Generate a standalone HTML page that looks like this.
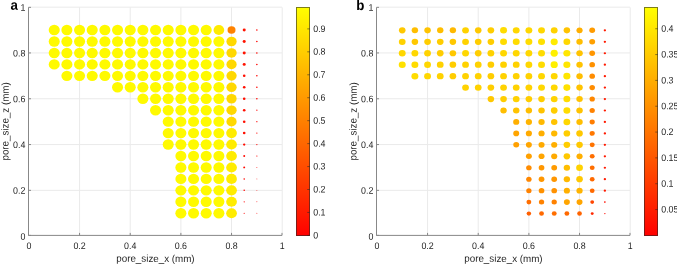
<!DOCTYPE html>
<html><head><meta charset="utf-8"><style>html,body{margin:0;padding:0;background:#fff;overflow:hidden}svg{display:block;will-change:transform}</style></head>
<body><svg width="677" height="264" viewBox="0 0 677 264">
<rect width="677" height="264" fill="#fff"/>
<line x1="79.56" y1="7.35" x2="79.56" y2="235.4" stroke="#eaeaea" stroke-width="1"/>
<line x1="130.22" y1="7.35" x2="130.22" y2="235.4" stroke="#eaeaea" stroke-width="1"/>
<line x1="180.88" y1="7.35" x2="180.88" y2="235.4" stroke="#eaeaea" stroke-width="1"/>
<line x1="231.54" y1="7.35" x2="231.54" y2="235.4" stroke="#eaeaea" stroke-width="1"/>
<line x1="282.20" y1="7.35" x2="282.20" y2="235.4" stroke="#eaeaea" stroke-width="1"/>
<line x1="28.5" y1="190.35" x2="282.0" y2="190.35" stroke="#eaeaea" stroke-width="1"/>
<line x1="28.5" y1="144.55" x2="282.0" y2="144.55" stroke="#eaeaea" stroke-width="1"/>
<line x1="28.5" y1="98.75" x2="282.0" y2="98.75" stroke="#eaeaea" stroke-width="1"/>
<line x1="28.5" y1="52.95" x2="282.0" y2="52.95" stroke="#eaeaea" stroke-width="1"/>
<line x1="28.5" y1="7.15" x2="282.0" y2="7.15" stroke="#eaeaea" stroke-width="1"/>
<g>
<ellipse cx="54.23" cy="30.05" rx="5.53" ry="5.20" fill="rgb(255,250,0)"/>
<ellipse cx="66.89" cy="30.05" rx="5.53" ry="5.20" fill="rgb(255,250,0)"/>
<ellipse cx="79.56" cy="30.05" rx="5.53" ry="5.20" fill="rgb(255,250,0)"/>
<ellipse cx="92.22" cy="30.05" rx="5.53" ry="5.20" fill="rgb(255,250,0)"/>
<ellipse cx="104.89" cy="30.05" rx="5.53" ry="5.20" fill="rgb(255,250,0)"/>
<ellipse cx="117.55" cy="30.05" rx="5.53" ry="5.20" fill="rgb(255,250,0)"/>
<ellipse cx="130.22" cy="30.05" rx="5.53" ry="5.20" fill="rgb(255,250,0)"/>
<ellipse cx="142.88" cy="30.05" rx="5.53" ry="5.20" fill="rgb(255,250,0)"/>
<ellipse cx="155.55" cy="30.05" rx="5.53" ry="5.20" fill="rgb(255,250,0)"/>
<ellipse cx="168.22" cy="30.05" rx="5.53" ry="5.20" fill="rgb(255,250,0)"/>
<ellipse cx="180.88" cy="30.05" rx="5.53" ry="5.20" fill="rgb(255,250,0)"/>
<ellipse cx="193.54" cy="30.05" rx="5.53" ry="5.20" fill="rgb(255,250,0)"/>
<ellipse cx="206.21" cy="30.05" rx="5.53" ry="5.20" fill="rgb(255,250,0)"/>
<ellipse cx="218.88" cy="30.05" rx="5.36" ry="5.04" fill="rgb(255,235,0)"/>
<ellipse cx="231.54" cy="30.05" rx="3.99" ry="3.75" fill="rgb(255,130,0)"/>
<ellipse cx="244.20" cy="30.05" rx="1.53" ry="1.44" fill="rgb(255,19,0)"/>
<ellipse cx="256.87" cy="30.05" rx="0.79" ry="0.74" fill="rgb(255,5,0)"/>
<ellipse cx="54.23" cy="41.50" rx="5.53" ry="5.20" fill="rgb(255,250,0)"/>
<ellipse cx="66.89" cy="41.50" rx="5.53" ry="5.20" fill="rgb(255,250,0)"/>
<ellipse cx="79.56" cy="41.50" rx="5.53" ry="5.20" fill="rgb(255,250,0)"/>
<ellipse cx="92.22" cy="41.50" rx="5.53" ry="5.20" fill="rgb(255,250,0)"/>
<ellipse cx="104.89" cy="41.50" rx="5.53" ry="5.20" fill="rgb(255,250,0)"/>
<ellipse cx="117.55" cy="41.50" rx="5.53" ry="5.20" fill="rgb(255,250,0)"/>
<ellipse cx="130.22" cy="41.50" rx="5.53" ry="5.20" fill="rgb(255,250,0)"/>
<ellipse cx="142.88" cy="41.50" rx="5.53" ry="5.20" fill="rgb(255,250,0)"/>
<ellipse cx="155.55" cy="41.50" rx="5.53" ry="5.20" fill="rgb(255,250,0)"/>
<ellipse cx="168.22" cy="41.50" rx="5.53" ry="5.20" fill="rgb(255,250,0)"/>
<ellipse cx="180.88" cy="41.50" rx="5.53" ry="5.20" fill="rgb(255,250,0)"/>
<ellipse cx="193.54" cy="41.50" rx="5.53" ry="5.20" fill="rgb(255,250,0)"/>
<ellipse cx="206.21" cy="41.50" rx="5.53" ry="5.20" fill="rgb(255,250,0)"/>
<ellipse cx="218.88" cy="41.50" rx="5.53" ry="5.20" fill="rgb(255,250,0)"/>
<ellipse cx="231.54" cy="41.50" rx="5.13" ry="4.82" fill="rgb(255,216,0)"/>
<ellipse cx="244.20" cy="41.50" rx="1.53" ry="1.44" fill="rgb(255,19,0)"/>
<ellipse cx="256.87" cy="41.50" rx="0.79" ry="0.74" fill="rgb(255,5,0)"/>
<ellipse cx="54.23" cy="52.95" rx="5.53" ry="5.20" fill="rgb(255,250,0)"/>
<ellipse cx="66.89" cy="52.95" rx="5.53" ry="5.20" fill="rgb(255,250,0)"/>
<ellipse cx="79.56" cy="52.95" rx="5.53" ry="5.20" fill="rgb(255,250,0)"/>
<ellipse cx="92.22" cy="52.95" rx="5.53" ry="5.20" fill="rgb(255,250,0)"/>
<ellipse cx="104.89" cy="52.95" rx="5.53" ry="5.20" fill="rgb(255,250,0)"/>
<ellipse cx="117.55" cy="52.95" rx="5.53" ry="5.20" fill="rgb(255,250,0)"/>
<ellipse cx="130.22" cy="52.95" rx="5.53" ry="5.20" fill="rgb(255,250,0)"/>
<ellipse cx="142.88" cy="52.95" rx="5.53" ry="5.20" fill="rgb(255,250,0)"/>
<ellipse cx="155.55" cy="52.95" rx="5.53" ry="5.20" fill="rgb(255,250,0)"/>
<ellipse cx="168.22" cy="52.95" rx="5.53" ry="5.20" fill="rgb(255,250,0)"/>
<ellipse cx="180.88" cy="52.95" rx="5.53" ry="5.20" fill="rgb(255,250,0)"/>
<ellipse cx="193.54" cy="52.95" rx="5.53" ry="5.20" fill="rgb(255,250,0)"/>
<ellipse cx="206.21" cy="52.95" rx="5.53" ry="5.20" fill="rgb(255,250,0)"/>
<ellipse cx="218.88" cy="52.95" rx="5.53" ry="5.20" fill="rgb(255,250,0)"/>
<ellipse cx="231.54" cy="52.95" rx="5.13" ry="4.82" fill="rgb(255,216,0)"/>
<ellipse cx="244.20" cy="52.95" rx="1.53" ry="1.44" fill="rgb(255,19,0)"/>
<ellipse cx="256.87" cy="52.95" rx="0.79" ry="0.74" fill="rgb(255,5,0)"/>
<ellipse cx="54.23" cy="64.40" rx="5.53" ry="5.20" fill="rgb(255,250,0)"/>
<ellipse cx="66.89" cy="64.40" rx="5.53" ry="5.20" fill="rgb(255,250,0)"/>
<ellipse cx="79.56" cy="64.40" rx="5.53" ry="5.20" fill="rgb(255,250,0)"/>
<ellipse cx="92.22" cy="64.40" rx="5.53" ry="5.20" fill="rgb(255,250,0)"/>
<ellipse cx="104.89" cy="64.40" rx="5.53" ry="5.20" fill="rgb(255,250,0)"/>
<ellipse cx="117.55" cy="64.40" rx="5.53" ry="5.20" fill="rgb(255,250,0)"/>
<ellipse cx="130.22" cy="64.40" rx="5.53" ry="5.20" fill="rgb(255,250,0)"/>
<ellipse cx="142.88" cy="64.40" rx="5.53" ry="5.20" fill="rgb(255,250,0)"/>
<ellipse cx="155.55" cy="64.40" rx="5.53" ry="5.20" fill="rgb(255,250,0)"/>
<ellipse cx="168.22" cy="64.40" rx="5.53" ry="5.20" fill="rgb(255,250,0)"/>
<ellipse cx="180.88" cy="64.40" rx="5.53" ry="5.20" fill="rgb(255,250,0)"/>
<ellipse cx="193.54" cy="64.40" rx="5.53" ry="5.20" fill="rgb(255,250,0)"/>
<ellipse cx="206.21" cy="64.40" rx="5.53" ry="5.20" fill="rgb(255,250,0)"/>
<ellipse cx="218.88" cy="64.40" rx="5.53" ry="5.20" fill="rgb(255,250,0)"/>
<ellipse cx="231.54" cy="64.40" rx="5.13" ry="4.82" fill="rgb(255,216,0)"/>
<ellipse cx="244.20" cy="64.40" rx="1.53" ry="1.44" fill="rgb(255,19,0)"/>
<ellipse cx="256.87" cy="64.40" rx="0.79" ry="0.74" fill="rgb(255,5,0)"/>
<ellipse cx="66.89" cy="75.85" rx="5.53" ry="5.20" fill="rgb(255,250,0)"/>
<ellipse cx="79.56" cy="75.85" rx="5.53" ry="5.20" fill="rgb(255,250,0)"/>
<ellipse cx="92.22" cy="75.85" rx="5.53" ry="5.20" fill="rgb(255,250,0)"/>
<ellipse cx="104.89" cy="75.85" rx="5.53" ry="5.20" fill="rgb(255,250,0)"/>
<ellipse cx="117.55" cy="75.85" rx="5.53" ry="5.20" fill="rgb(255,250,0)"/>
<ellipse cx="130.22" cy="75.85" rx="5.53" ry="5.20" fill="rgb(255,250,0)"/>
<ellipse cx="142.88" cy="75.85" rx="5.53" ry="5.20" fill="rgb(255,250,0)"/>
<ellipse cx="155.55" cy="75.85" rx="5.53" ry="5.20" fill="rgb(255,250,0)"/>
<ellipse cx="168.22" cy="75.85" rx="5.53" ry="5.20" fill="rgb(255,250,0)"/>
<ellipse cx="180.88" cy="75.85" rx="5.53" ry="5.20" fill="rgb(255,250,0)"/>
<ellipse cx="193.54" cy="75.85" rx="5.53" ry="5.20" fill="rgb(255,250,0)"/>
<ellipse cx="206.21" cy="75.85" rx="5.53" ry="5.20" fill="rgb(255,250,0)"/>
<ellipse cx="218.88" cy="75.85" rx="5.53" ry="5.20" fill="rgb(255,250,0)"/>
<ellipse cx="231.54" cy="75.85" rx="5.13" ry="4.82" fill="rgb(255,216,0)"/>
<ellipse cx="244.20" cy="75.85" rx="1.31" ry="1.23" fill="rgb(255,14,0)"/>
<ellipse cx="256.87" cy="75.85" rx="0.79" ry="0.74" fill="rgb(255,5,0)"/>
<ellipse cx="117.55" cy="87.30" rx="5.53" ry="5.20" fill="rgb(255,250,0)"/>
<ellipse cx="130.22" cy="87.30" rx="5.53" ry="5.20" fill="rgb(255,250,0)"/>
<ellipse cx="142.88" cy="87.30" rx="5.53" ry="5.20" fill="rgb(255,250,0)"/>
<ellipse cx="155.55" cy="87.30" rx="5.53" ry="5.20" fill="rgb(255,250,0)"/>
<ellipse cx="168.22" cy="87.30" rx="5.53" ry="5.20" fill="rgb(255,250,0)"/>
<ellipse cx="180.88" cy="87.30" rx="5.53" ry="5.20" fill="rgb(255,250,0)"/>
<ellipse cx="193.54" cy="87.30" rx="5.53" ry="5.20" fill="rgb(255,250,0)"/>
<ellipse cx="206.21" cy="87.30" rx="5.53" ry="5.20" fill="rgb(255,250,0)"/>
<ellipse cx="218.88" cy="87.30" rx="5.53" ry="5.20" fill="rgb(255,250,0)"/>
<ellipse cx="231.54" cy="87.30" rx="5.13" ry="4.82" fill="rgb(255,216,0)"/>
<ellipse cx="244.20" cy="87.30" rx="1.31" ry="1.23" fill="rgb(255,14,0)"/>
<ellipse cx="256.87" cy="87.30" rx="0.79" ry="0.74" fill="rgb(255,5,0)"/>
<ellipse cx="142.88" cy="98.75" rx="5.53" ry="5.20" fill="rgb(255,250,0)"/>
<ellipse cx="155.55" cy="98.75" rx="5.53" ry="5.20" fill="rgb(255,250,0)"/>
<ellipse cx="168.22" cy="98.75" rx="5.53" ry="5.20" fill="rgb(255,250,0)"/>
<ellipse cx="180.88" cy="98.75" rx="5.53" ry="5.20" fill="rgb(255,250,0)"/>
<ellipse cx="193.54" cy="98.75" rx="5.53" ry="5.20" fill="rgb(255,250,0)"/>
<ellipse cx="206.21" cy="98.75" rx="5.53" ry="5.20" fill="rgb(255,250,0)"/>
<ellipse cx="218.88" cy="98.75" rx="5.53" ry="5.20" fill="rgb(255,250,0)"/>
<ellipse cx="231.54" cy="98.75" rx="5.13" ry="4.82" fill="rgb(255,216,0)"/>
<ellipse cx="244.20" cy="98.75" rx="1.31" ry="1.23" fill="rgb(255,14,0)"/>
<ellipse cx="256.87" cy="98.75" rx="0.79" ry="0.74" fill="rgb(255,5,0)"/>
<ellipse cx="155.55" cy="110.20" rx="5.53" ry="5.20" fill="rgb(255,250,0)"/>
<ellipse cx="168.22" cy="110.20" rx="5.53" ry="5.20" fill="rgb(255,250,0)"/>
<ellipse cx="180.88" cy="110.20" rx="5.53" ry="5.20" fill="rgb(255,250,0)"/>
<ellipse cx="193.54" cy="110.20" rx="5.53" ry="5.20" fill="rgb(255,250,0)"/>
<ellipse cx="206.21" cy="110.20" rx="5.53" ry="5.20" fill="rgb(255,250,0)"/>
<ellipse cx="218.88" cy="110.20" rx="5.53" ry="5.20" fill="rgb(255,250,0)"/>
<ellipse cx="231.54" cy="110.20" rx="5.13" ry="4.82" fill="rgb(255,216,0)"/>
<ellipse cx="244.20" cy="110.20" rx="1.31" ry="1.23" fill="rgb(255,14,0)"/>
<ellipse cx="256.87" cy="110.20" rx="0.64" ry="0.60" fill="rgb(255,3,0)"/>
<ellipse cx="168.22" cy="121.65" rx="5.53" ry="5.20" fill="rgb(255,250,0)"/>
<ellipse cx="180.88" cy="121.65" rx="5.53" ry="5.20" fill="rgb(255,250,0)"/>
<ellipse cx="193.54" cy="121.65" rx="5.53" ry="5.20" fill="rgb(255,250,0)"/>
<ellipse cx="206.21" cy="121.65" rx="5.53" ry="5.20" fill="rgb(255,250,0)"/>
<ellipse cx="218.88" cy="121.65" rx="5.53" ry="5.20" fill="rgb(255,250,0)"/>
<ellipse cx="231.54" cy="121.65" rx="5.13" ry="4.82" fill="rgb(255,216,0)"/>
<ellipse cx="244.20" cy="121.65" rx="1.31" ry="1.23" fill="rgb(255,14,0)"/>
<ellipse cx="256.87" cy="121.65" rx="0.64" ry="0.60" fill="rgb(255,3,0)"/>
<ellipse cx="168.22" cy="133.10" rx="5.53" ry="5.20" fill="rgb(255,250,0)"/>
<ellipse cx="180.88" cy="133.10" rx="5.53" ry="5.20" fill="rgb(255,250,0)"/>
<ellipse cx="193.54" cy="133.10" rx="5.53" ry="5.20" fill="rgb(255,250,0)"/>
<ellipse cx="206.21" cy="133.10" rx="5.53" ry="5.20" fill="rgb(255,250,0)"/>
<ellipse cx="218.88" cy="133.10" rx="5.53" ry="5.20" fill="rgb(255,250,0)"/>
<ellipse cx="231.54" cy="133.10" rx="5.37" ry="5.05" fill="rgb(255,236,0)"/>
<ellipse cx="244.20" cy="133.10" rx="1.31" ry="1.23" fill="rgb(255,14,0)"/>
<ellipse cx="256.87" cy="133.10" rx="0.64" ry="0.60" fill="rgb(255,3,0)"/>
<ellipse cx="168.22" cy="144.55" rx="5.53" ry="5.20" fill="rgb(255,250,0)"/>
<ellipse cx="180.88" cy="144.55" rx="5.53" ry="5.20" fill="rgb(255,250,0)"/>
<ellipse cx="193.54" cy="144.55" rx="5.53" ry="5.20" fill="rgb(255,250,0)"/>
<ellipse cx="206.21" cy="144.55" rx="5.53" ry="5.20" fill="rgb(255,250,0)"/>
<ellipse cx="218.88" cy="144.55" rx="5.53" ry="5.20" fill="rgb(255,250,0)"/>
<ellipse cx="231.54" cy="144.55" rx="5.37" ry="5.05" fill="rgb(255,236,0)"/>
<ellipse cx="244.20" cy="144.55" rx="1.19" ry="1.12" fill="rgb(255,12,0)"/>
<ellipse cx="256.87" cy="144.55" rx="0.64" ry="0.60" fill="rgb(255,3,0)"/>
<ellipse cx="180.88" cy="156.00" rx="5.53" ry="5.20" fill="rgb(255,250,0)"/>
<ellipse cx="193.54" cy="156.00" rx="5.53" ry="5.20" fill="rgb(255,250,0)"/>
<ellipse cx="206.21" cy="156.00" rx="5.53" ry="5.20" fill="rgb(255,250,0)"/>
<ellipse cx="218.88" cy="156.00" rx="5.53" ry="5.20" fill="rgb(255,250,0)"/>
<ellipse cx="231.54" cy="156.00" rx="5.37" ry="5.05" fill="rgb(255,236,0)"/>
<ellipse cx="244.20" cy="156.00" rx="0.97" ry="0.91" fill="rgb(255,8,0)"/>
<ellipse cx="256.87" cy="156.00" rx="0.64" ry="0.60" fill="rgb(255,3,0)"/>
<ellipse cx="180.88" cy="167.45" rx="5.53" ry="5.20" fill="rgb(255,250,0)"/>
<ellipse cx="193.54" cy="167.45" rx="5.53" ry="5.20" fill="rgb(255,250,0)"/>
<ellipse cx="206.21" cy="167.45" rx="5.53" ry="5.20" fill="rgb(255,250,0)"/>
<ellipse cx="218.88" cy="167.45" rx="5.53" ry="5.20" fill="rgb(255,250,0)"/>
<ellipse cx="231.54" cy="167.45" rx="5.37" ry="5.05" fill="rgb(255,236,0)"/>
<ellipse cx="244.20" cy="167.45" rx="0.97" ry="0.91" fill="rgb(255,8,0)"/>
<ellipse cx="256.87" cy="167.45" rx="0.50" ry="0.47" fill="rgb(255,2,0)"/>
<ellipse cx="180.88" cy="178.90" rx="5.53" ry="5.20" fill="rgb(255,250,0)"/>
<ellipse cx="193.54" cy="178.90" rx="5.53" ry="5.20" fill="rgb(255,250,0)"/>
<ellipse cx="206.21" cy="178.90" rx="5.53" ry="5.20" fill="rgb(255,250,0)"/>
<ellipse cx="218.88" cy="178.90" rx="5.53" ry="5.20" fill="rgb(255,250,0)"/>
<ellipse cx="231.54" cy="178.90" rx="5.37" ry="5.05" fill="rgb(255,236,0)"/>
<ellipse cx="244.20" cy="178.90" rx="0.79" ry="0.74" fill="rgb(255,5,0)"/>
<ellipse cx="256.87" cy="178.90" rx="0.50" ry="0.47" fill="rgb(255,2,0)"/>
<ellipse cx="180.88" cy="190.35" rx="5.53" ry="5.20" fill="rgb(255,250,0)"/>
<ellipse cx="193.54" cy="190.35" rx="5.53" ry="5.20" fill="rgb(255,250,0)"/>
<ellipse cx="206.21" cy="190.35" rx="5.53" ry="5.20" fill="rgb(255,250,0)"/>
<ellipse cx="218.88" cy="190.35" rx="5.53" ry="5.20" fill="rgb(255,250,0)"/>
<ellipse cx="231.54" cy="190.35" rx="5.37" ry="5.05" fill="rgb(255,236,0)"/>
<ellipse cx="244.20" cy="190.35" rx="0.79" ry="0.74" fill="rgb(255,5,0)"/>
<ellipse cx="256.87" cy="190.35" rx="0.50" ry="0.47" fill="rgb(255,2,0)"/>
<ellipse cx="180.88" cy="201.80" rx="5.53" ry="5.20" fill="rgb(255,250,0)"/>
<ellipse cx="193.54" cy="201.80" rx="5.53" ry="5.20" fill="rgb(255,250,0)"/>
<ellipse cx="206.21" cy="201.80" rx="5.53" ry="5.20" fill="rgb(255,250,0)"/>
<ellipse cx="218.88" cy="201.80" rx="5.53" ry="5.20" fill="rgb(255,250,0)"/>
<ellipse cx="231.54" cy="201.80" rx="5.37" ry="5.05" fill="rgb(255,236,0)"/>
<ellipse cx="244.20" cy="201.80" rx="0.61" ry="0.58" fill="rgb(255,3,0)"/>
<ellipse cx="256.87" cy="201.80" rx="0.50" ry="0.47" fill="rgb(255,2,0)"/>
<ellipse cx="180.88" cy="213.25" rx="5.53" ry="5.20" fill="rgb(255,250,0)"/>
<ellipse cx="193.54" cy="213.25" rx="5.53" ry="5.20" fill="rgb(255,250,0)"/>
<ellipse cx="206.21" cy="213.25" rx="5.53" ry="5.20" fill="rgb(255,250,0)"/>
<ellipse cx="218.88" cy="213.25" rx="5.53" ry="5.20" fill="rgb(255,250,0)"/>
<ellipse cx="231.54" cy="213.25" rx="5.37" ry="5.05" fill="rgb(255,236,0)"/>
<ellipse cx="244.20" cy="213.25" rx="0.61" ry="0.58" fill="rgb(255,3,0)"/>
<ellipse cx="256.87" cy="213.25" rx="0.50" ry="0.47" fill="rgb(255,2,0)"/>
</g>
<line x1="28.5" y1="7.35" x2="28.5" y2="235.4" stroke="#888888" stroke-width="1"/>
<line x1="28.5" y1="235.4" x2="282.0" y2="235.4" stroke="#888888" stroke-width="1"/>
<line x1="28.50" y1="235.4" x2="28.50" y2="232.9" stroke="#888888" stroke-width="1"/>
<line x1="28.5" y1="235.40" x2="31.0" y2="235.40" stroke="#888888" stroke-width="1"/>
<line x1="79.56" y1="235.4" x2="79.56" y2="232.9" stroke="#888888" stroke-width="1"/>
<line x1="28.5" y1="190.35" x2="31.0" y2="190.35" stroke="#888888" stroke-width="1"/>
<line x1="130.22" y1="235.4" x2="130.22" y2="232.9" stroke="#888888" stroke-width="1"/>
<line x1="28.5" y1="144.55" x2="31.0" y2="144.55" stroke="#888888" stroke-width="1"/>
<line x1="180.88" y1="235.4" x2="180.88" y2="232.9" stroke="#888888" stroke-width="1"/>
<line x1="28.5" y1="98.75" x2="31.0" y2="98.75" stroke="#888888" stroke-width="1"/>
<line x1="231.54" y1="235.4" x2="231.54" y2="232.9" stroke="#888888" stroke-width="1"/>
<line x1="28.5" y1="52.95" x2="31.0" y2="52.95" stroke="#888888" stroke-width="1"/>
<line x1="282.00" y1="235.4" x2="282.00" y2="232.9" stroke="#888888" stroke-width="1"/>
<line x1="28.5" y1="7.35" x2="31.0" y2="7.35" stroke="#888888" stroke-width="1"/>
<text transform="translate(28.90 249.10) rotate(0.2) scale(0.93 1)" text-anchor="middle" font-size="9.5" font-family="Liberation Sans, sans-serif" fill="#262626">0</text>
<text transform="translate(25.30 239.65) rotate(0.2) scale(0.93 1)" text-anchor="end" font-size="9.5" font-family="Liberation Sans, sans-serif" fill="#262626">0</text>
<text transform="translate(79.56 249.10) rotate(0.2) scale(0.93 1)" text-anchor="middle" font-size="9.5" font-family="Liberation Sans, sans-serif" fill="#262626">0.2</text>
<text transform="translate(25.30 193.85) rotate(0.2) scale(0.93 1)" text-anchor="end" font-size="9.5" font-family="Liberation Sans, sans-serif" fill="#262626">0.2</text>
<text transform="translate(130.22 249.10) rotate(0.2) scale(0.93 1)" text-anchor="middle" font-size="9.5" font-family="Liberation Sans, sans-serif" fill="#262626">0.4</text>
<text transform="translate(25.30 148.05) rotate(0.2) scale(0.93 1)" text-anchor="end" font-size="9.5" font-family="Liberation Sans, sans-serif" fill="#262626">0.4</text>
<text transform="translate(180.88 249.10) rotate(0.2) scale(0.93 1)" text-anchor="middle" font-size="9.5" font-family="Liberation Sans, sans-serif" fill="#262626">0.6</text>
<text transform="translate(25.30 102.25) rotate(0.2) scale(0.93 1)" text-anchor="end" font-size="9.5" font-family="Liberation Sans, sans-serif" fill="#262626">0.6</text>
<text transform="translate(231.54 249.10) rotate(0.2) scale(0.93 1)" text-anchor="middle" font-size="9.5" font-family="Liberation Sans, sans-serif" fill="#262626">0.8</text>
<text transform="translate(25.30 56.45) rotate(0.2) scale(0.93 1)" text-anchor="end" font-size="9.5" font-family="Liberation Sans, sans-serif" fill="#262626">0.8</text>
<text transform="translate(282.20 249.10) rotate(0.2) scale(0.93 1)" text-anchor="middle" font-size="9.5" font-family="Liberation Sans, sans-serif" fill="#262626">1</text>
<text transform="translate(25.30 10.65) rotate(0.2) scale(0.93 1)" text-anchor="end" font-size="9.5" font-family="Liberation Sans, sans-serif" fill="#262626">1</text>
<text transform="translate(155.45 261.9) rotate(0.2) scale(0.98 1)" text-anchor="middle" font-size="10" font-family="Liberation Sans, sans-serif" fill="#262626">pore_size_x (mm)</text>
<text transform="translate(8.60 121.38) rotate(-89.8) scale(0.98 1)" text-anchor="middle" font-size="10" font-family="Liberation Sans, sans-serif" fill="#262626">pore_size_z (mm)</text>
<text transform="translate(10.5 9.7) rotate(0.2) scale(0.95 1)" font-size="14" font-weight="bold" font-family="Liberation Sans, sans-serif" fill="#000">a</text>
<defs><linearGradient id="ga" x1="0" y1="1" x2="0" y2="0"><stop offset="0" stop-color="rgb(255,0,0)"/><stop offset="1" stop-color="rgb(255,255,0)"/></linearGradient></defs>
<rect x="296" y="7" width="14" height="229" fill="url(#ga)"/>
<rect x="296.5" y="7.5" width="13" height="228" fill="none" stroke="#262626" stroke-opacity="0.6" stroke-width="1"/>
<line x1="309.75" y1="235.40" x2="307.25" y2="235.40" stroke="#262626" stroke-opacity="0.55" stroke-width="1"/>
<text transform="translate(313.25 238.40) rotate(0.2) scale(0.93 1)" text-anchor="start" font-size="9.5" font-family="Liberation Sans, sans-serif" fill="#262626">0</text>
<line x1="309.75" y1="212.46" x2="307.25" y2="212.46" stroke="#262626" stroke-opacity="0.55" stroke-width="1"/>
<text transform="translate(313.25 215.46) rotate(0.2) scale(0.93 1)" text-anchor="start" font-size="9.5" font-family="Liberation Sans, sans-serif" fill="#262626">0.1</text>
<line x1="309.75" y1="189.51" x2="307.25" y2="189.51" stroke="#262626" stroke-opacity="0.55" stroke-width="1"/>
<text transform="translate(313.25 192.51) rotate(0.2) scale(0.93 1)" text-anchor="start" font-size="9.5" font-family="Liberation Sans, sans-serif" fill="#262626">0.2</text>
<line x1="309.75" y1="166.57" x2="307.25" y2="166.57" stroke="#262626" stroke-opacity="0.55" stroke-width="1"/>
<text transform="translate(313.25 169.57) rotate(0.2) scale(0.93 1)" text-anchor="start" font-size="9.5" font-family="Liberation Sans, sans-serif" fill="#262626">0.3</text>
<line x1="309.75" y1="143.62" x2="307.25" y2="143.62" stroke="#262626" stroke-opacity="0.55" stroke-width="1"/>
<text transform="translate(313.25 146.62) rotate(0.2) scale(0.93 1)" text-anchor="start" font-size="9.5" font-family="Liberation Sans, sans-serif" fill="#262626">0.4</text>
<line x1="309.75" y1="120.68" x2="307.25" y2="120.68" stroke="#262626" stroke-opacity="0.55" stroke-width="1"/>
<text transform="translate(313.25 123.68) rotate(0.2) scale(0.93 1)" text-anchor="start" font-size="9.5" font-family="Liberation Sans, sans-serif" fill="#262626">0.5</text>
<line x1="309.75" y1="97.73" x2="307.25" y2="97.73" stroke="#262626" stroke-opacity="0.55" stroke-width="1"/>
<text transform="translate(313.25 100.73) rotate(0.2) scale(0.93 1)" text-anchor="start" font-size="9.5" font-family="Liberation Sans, sans-serif" fill="#262626">0.6</text>
<line x1="309.75" y1="74.79" x2="307.25" y2="74.79" stroke="#262626" stroke-opacity="0.55" stroke-width="1"/>
<text transform="translate(313.25 77.79) rotate(0.2) scale(0.93 1)" text-anchor="start" font-size="9.5" font-family="Liberation Sans, sans-serif" fill="#262626">0.7</text>
<line x1="309.75" y1="51.84" x2="307.25" y2="51.84" stroke="#262626" stroke-opacity="0.55" stroke-width="1"/>
<text transform="translate(313.25 54.84) rotate(0.2) scale(0.93 1)" text-anchor="start" font-size="9.5" font-family="Liberation Sans, sans-serif" fill="#262626">0.8</text>
<line x1="309.75" y1="28.90" x2="307.25" y2="28.90" stroke="#262626" stroke-opacity="0.55" stroke-width="1"/>
<text transform="translate(313.25 31.90) rotate(0.2) scale(0.93 1)" text-anchor="start" font-size="9.5" font-family="Liberation Sans, sans-serif" fill="#262626">0.9</text>
<line x1="427.56" y1="7.35" x2="427.56" y2="235.4" stroke="#eaeaea" stroke-width="1"/>
<line x1="478.22" y1="7.35" x2="478.22" y2="235.4" stroke="#eaeaea" stroke-width="1"/>
<line x1="528.88" y1="7.35" x2="528.88" y2="235.4" stroke="#eaeaea" stroke-width="1"/>
<line x1="579.54" y1="7.35" x2="579.54" y2="235.4" stroke="#eaeaea" stroke-width="1"/>
<line x1="630.20" y1="7.35" x2="630.20" y2="235.4" stroke="#eaeaea" stroke-width="1"/>
<line x1="376.5" y1="190.35" x2="630.0" y2="190.35" stroke="#eaeaea" stroke-width="1"/>
<line x1="376.5" y1="144.55" x2="630.0" y2="144.55" stroke="#eaeaea" stroke-width="1"/>
<line x1="376.5" y1="98.75" x2="630.0" y2="98.75" stroke="#eaeaea" stroke-width="1"/>
<line x1="376.5" y1="52.95" x2="630.0" y2="52.95" stroke="#eaeaea" stroke-width="1"/>
<line x1="376.5" y1="7.15" x2="630.0" y2="7.15" stroke="#eaeaea" stroke-width="1"/>
<g>
<ellipse cx="402.23" cy="30.35" rx="3.29" ry="3.10" fill="rgb(255,200,0)"/>
<ellipse cx="414.89" cy="30.35" rx="3.21" ry="3.02" fill="rgb(255,190,0)"/>
<ellipse cx="427.56" cy="30.35" rx="3.25" ry="3.06" fill="rgb(255,195,0)"/>
<ellipse cx="440.23" cy="30.35" rx="3.21" ry="3.02" fill="rgb(255,190,0)"/>
<ellipse cx="452.89" cy="30.35" rx="3.17" ry="2.98" fill="rgb(255,185,0)"/>
<ellipse cx="465.55" cy="30.35" rx="3.38" ry="3.17" fill="rgb(255,210,0)"/>
<ellipse cx="478.22" cy="30.35" rx="3.29" ry="3.10" fill="rgb(255,200,0)"/>
<ellipse cx="490.88" cy="30.35" rx="3.34" ry="3.14" fill="rgb(255,205,0)"/>
<ellipse cx="503.55" cy="30.35" rx="3.46" ry="3.25" fill="rgb(255,220,0)"/>
<ellipse cx="516.22" cy="30.35" rx="3.42" ry="3.21" fill="rgb(255,215,0)"/>
<ellipse cx="528.88" cy="30.35" rx="3.42" ry="3.21" fill="rgb(255,215,0)"/>
<ellipse cx="541.54" cy="30.35" rx="3.42" ry="3.21" fill="rgb(255,215,0)"/>
<ellipse cx="554.21" cy="30.35" rx="3.38" ry="3.17" fill="rgb(255,210,0)"/>
<ellipse cx="566.88" cy="30.35" rx="3.25" ry="3.06" fill="rgb(255,195,0)"/>
<ellipse cx="579.54" cy="30.35" rx="3.08" ry="2.90" fill="rgb(255,175,0)"/>
<ellipse cx="592.20" cy="30.35" rx="2.90" ry="2.73" fill="rgb(255,155,0)"/>
<ellipse cx="604.87" cy="30.35" rx="1.19" ry="1.12" fill="rgb(255,26,0)"/>
<ellipse cx="402.23" cy="41.80" rx="3.38" ry="3.17" fill="rgb(255,210,0)"/>
<ellipse cx="414.89" cy="41.80" rx="3.29" ry="3.10" fill="rgb(255,200,0)"/>
<ellipse cx="427.56" cy="41.80" rx="3.34" ry="3.14" fill="rgb(255,205,0)"/>
<ellipse cx="440.23" cy="41.80" rx="3.34" ry="3.14" fill="rgb(255,205,0)"/>
<ellipse cx="452.89" cy="41.80" rx="3.29" ry="3.10" fill="rgb(255,200,0)"/>
<ellipse cx="465.55" cy="41.80" rx="3.38" ry="3.17" fill="rgb(255,210,0)"/>
<ellipse cx="478.22" cy="41.80" rx="3.34" ry="3.14" fill="rgb(255,205,0)"/>
<ellipse cx="490.88" cy="41.80" rx="3.34" ry="3.14" fill="rgb(255,205,0)"/>
<ellipse cx="503.55" cy="41.80" rx="3.46" ry="3.25" fill="rgb(255,220,0)"/>
<ellipse cx="516.22" cy="41.80" rx="3.46" ry="3.25" fill="rgb(255,220,0)"/>
<ellipse cx="528.88" cy="41.80" rx="3.46" ry="3.25" fill="rgb(255,220,0)"/>
<ellipse cx="541.54" cy="41.80" rx="3.49" ry="3.29" fill="rgb(255,225,0)"/>
<ellipse cx="554.21" cy="41.80" rx="3.57" ry="3.36" fill="rgb(255,235,0)"/>
<ellipse cx="566.88" cy="41.80" rx="3.42" ry="3.21" fill="rgb(255,215,0)"/>
<ellipse cx="579.54" cy="41.80" rx="3.21" ry="3.02" fill="rgb(255,190,0)"/>
<ellipse cx="592.20" cy="41.80" rx="2.95" ry="2.77" fill="rgb(255,160,0)"/>
<ellipse cx="604.87" cy="41.80" rx="1.19" ry="1.12" fill="rgb(255,26,0)"/>
<ellipse cx="402.23" cy="53.25" rx="3.42" ry="3.21" fill="rgb(255,215,0)"/>
<ellipse cx="414.89" cy="53.25" rx="3.42" ry="3.21" fill="rgb(255,215,0)"/>
<ellipse cx="427.56" cy="53.25" rx="3.38" ry="3.17" fill="rgb(255,210,0)"/>
<ellipse cx="440.23" cy="53.25" rx="3.34" ry="3.14" fill="rgb(255,205,0)"/>
<ellipse cx="452.89" cy="53.25" rx="3.29" ry="3.10" fill="rgb(255,200,0)"/>
<ellipse cx="465.55" cy="53.25" rx="3.42" ry="3.21" fill="rgb(255,215,0)"/>
<ellipse cx="478.22" cy="53.25" rx="3.34" ry="3.14" fill="rgb(255,205,0)"/>
<ellipse cx="490.88" cy="53.25" rx="3.38" ry="3.17" fill="rgb(255,210,0)"/>
<ellipse cx="503.55" cy="53.25" rx="3.42" ry="3.21" fill="rgb(255,215,0)"/>
<ellipse cx="516.22" cy="53.25" rx="3.42" ry="3.21" fill="rgb(255,215,0)"/>
<ellipse cx="528.88" cy="53.25" rx="3.42" ry="3.21" fill="rgb(255,215,0)"/>
<ellipse cx="541.54" cy="53.25" rx="3.46" ry="3.25" fill="rgb(255,220,0)"/>
<ellipse cx="554.21" cy="53.25" rx="3.61" ry="3.39" fill="rgb(255,240,0)"/>
<ellipse cx="566.88" cy="53.25" rx="3.53" ry="3.32" fill="rgb(255,230,0)"/>
<ellipse cx="579.54" cy="53.25" rx="3.25" ry="3.06" fill="rgb(255,195,0)"/>
<ellipse cx="592.20" cy="53.25" rx="2.85" ry="2.68" fill="rgb(255,150,0)"/>
<ellipse cx="604.87" cy="53.25" rx="1.19" ry="1.12" fill="rgb(255,26,0)"/>
<ellipse cx="402.23" cy="64.70" rx="3.49" ry="3.29" fill="rgb(255,225,0)"/>
<ellipse cx="414.89" cy="64.70" rx="3.46" ry="3.25" fill="rgb(255,220,0)"/>
<ellipse cx="427.56" cy="64.70" rx="3.42" ry="3.21" fill="rgb(255,215,0)"/>
<ellipse cx="440.23" cy="64.70" rx="3.38" ry="3.17" fill="rgb(255,210,0)"/>
<ellipse cx="452.89" cy="64.70" rx="3.34" ry="3.14" fill="rgb(255,205,0)"/>
<ellipse cx="465.55" cy="64.70" rx="3.38" ry="3.17" fill="rgb(255,210,0)"/>
<ellipse cx="478.22" cy="64.70" rx="3.38" ry="3.17" fill="rgb(255,210,0)"/>
<ellipse cx="490.88" cy="64.70" rx="3.34" ry="3.14" fill="rgb(255,205,0)"/>
<ellipse cx="503.55" cy="64.70" rx="3.38" ry="3.17" fill="rgb(255,210,0)"/>
<ellipse cx="516.22" cy="64.70" rx="3.38" ry="3.17" fill="rgb(255,210,0)"/>
<ellipse cx="528.88" cy="64.70" rx="3.42" ry="3.21" fill="rgb(255,215,0)"/>
<ellipse cx="541.54" cy="64.70" rx="3.46" ry="3.25" fill="rgb(255,220,0)"/>
<ellipse cx="554.21" cy="64.70" rx="3.61" ry="3.39" fill="rgb(255,240,0)"/>
<ellipse cx="566.88" cy="64.70" rx="3.53" ry="3.32" fill="rgb(255,230,0)"/>
<ellipse cx="579.54" cy="64.70" rx="3.25" ry="3.06" fill="rgb(255,195,0)"/>
<ellipse cx="592.20" cy="64.70" rx="2.81" ry="2.64" fill="rgb(255,145,0)"/>
<ellipse cx="604.87" cy="64.70" rx="1.19" ry="1.12" fill="rgb(255,26,0)"/>
<ellipse cx="414.89" cy="76.15" rx="3.46" ry="3.25" fill="rgb(255,220,0)"/>
<ellipse cx="427.56" cy="76.15" rx="3.42" ry="3.21" fill="rgb(255,215,0)"/>
<ellipse cx="440.23" cy="76.15" rx="3.38" ry="3.17" fill="rgb(255,210,0)"/>
<ellipse cx="452.89" cy="76.15" rx="3.34" ry="3.14" fill="rgb(255,205,0)"/>
<ellipse cx="465.55" cy="76.15" rx="3.38" ry="3.17" fill="rgb(255,210,0)"/>
<ellipse cx="478.22" cy="76.15" rx="3.38" ry="3.17" fill="rgb(255,210,0)"/>
<ellipse cx="490.88" cy="76.15" rx="3.34" ry="3.14" fill="rgb(255,205,0)"/>
<ellipse cx="503.55" cy="76.15" rx="3.38" ry="3.17" fill="rgb(255,210,0)"/>
<ellipse cx="516.22" cy="76.15" rx="3.38" ry="3.17" fill="rgb(255,210,0)"/>
<ellipse cx="528.88" cy="76.15" rx="3.38" ry="3.17" fill="rgb(255,210,0)"/>
<ellipse cx="541.54" cy="76.15" rx="3.42" ry="3.21" fill="rgb(255,215,0)"/>
<ellipse cx="554.21" cy="76.15" rx="3.42" ry="3.21" fill="rgb(255,215,0)"/>
<ellipse cx="566.88" cy="76.15" rx="3.53" ry="3.32" fill="rgb(255,230,0)"/>
<ellipse cx="579.54" cy="76.15" rx="3.21" ry="3.02" fill="rgb(255,190,0)"/>
<ellipse cx="592.20" cy="76.15" rx="2.76" ry="2.59" fill="rgb(255,140,0)"/>
<ellipse cx="604.87" cy="76.15" rx="1.19" ry="1.12" fill="rgb(255,26,0)"/>
<ellipse cx="465.55" cy="87.60" rx="3.38" ry="3.17" fill="rgb(255,210,0)"/>
<ellipse cx="478.22" cy="87.60" rx="3.38" ry="3.17" fill="rgb(255,210,0)"/>
<ellipse cx="490.88" cy="87.60" rx="3.34" ry="3.14" fill="rgb(255,205,0)"/>
<ellipse cx="503.55" cy="87.60" rx="3.38" ry="3.17" fill="rgb(255,210,0)"/>
<ellipse cx="516.22" cy="87.60" rx="3.38" ry="3.17" fill="rgb(255,210,0)"/>
<ellipse cx="528.88" cy="87.60" rx="3.38" ry="3.17" fill="rgb(255,210,0)"/>
<ellipse cx="541.54" cy="87.60" rx="3.42" ry="3.21" fill="rgb(255,215,0)"/>
<ellipse cx="554.21" cy="87.60" rx="3.42" ry="3.21" fill="rgb(255,215,0)"/>
<ellipse cx="566.88" cy="87.60" rx="3.49" ry="3.29" fill="rgb(255,225,0)"/>
<ellipse cx="579.54" cy="87.60" rx="3.25" ry="3.06" fill="rgb(255,195,0)"/>
<ellipse cx="592.20" cy="87.60" rx="2.76" ry="2.59" fill="rgb(255,140,0)"/>
<ellipse cx="604.87" cy="87.60" rx="1.19" ry="1.12" fill="rgb(255,26,0)"/>
<ellipse cx="490.88" cy="99.05" rx="3.29" ry="3.10" fill="rgb(255,200,0)"/>
<ellipse cx="503.55" cy="99.05" rx="3.34" ry="3.14" fill="rgb(255,205,0)"/>
<ellipse cx="516.22" cy="99.05" rx="3.38" ry="3.17" fill="rgb(255,210,0)"/>
<ellipse cx="528.88" cy="99.05" rx="3.34" ry="3.14" fill="rgb(255,205,0)"/>
<ellipse cx="541.54" cy="99.05" rx="3.34" ry="3.14" fill="rgb(255,205,0)"/>
<ellipse cx="554.21" cy="99.05" rx="3.38" ry="3.17" fill="rgb(255,210,0)"/>
<ellipse cx="566.88" cy="99.05" rx="3.46" ry="3.25" fill="rgb(255,220,0)"/>
<ellipse cx="579.54" cy="99.05" rx="3.25" ry="3.06" fill="rgb(255,195,0)"/>
<ellipse cx="592.20" cy="99.05" rx="2.71" ry="2.54" fill="rgb(255,135,0)"/>
<ellipse cx="604.87" cy="99.05" rx="1.19" ry="1.12" fill="rgb(255,26,0)"/>
<ellipse cx="503.55" cy="110.50" rx="3.21" ry="3.02" fill="rgb(255,190,0)"/>
<ellipse cx="516.22" cy="110.50" rx="3.25" ry="3.06" fill="rgb(255,195,0)"/>
<ellipse cx="528.88" cy="110.50" rx="3.21" ry="3.02" fill="rgb(255,190,0)"/>
<ellipse cx="541.54" cy="110.50" rx="3.25" ry="3.06" fill="rgb(255,195,0)"/>
<ellipse cx="554.21" cy="110.50" rx="3.34" ry="3.14" fill="rgb(255,205,0)"/>
<ellipse cx="566.88" cy="110.50" rx="3.46" ry="3.25" fill="rgb(255,220,0)"/>
<ellipse cx="579.54" cy="110.50" rx="3.25" ry="3.06" fill="rgb(255,195,0)"/>
<ellipse cx="592.20" cy="110.50" rx="2.66" ry="2.50" fill="rgb(255,130,0)"/>
<ellipse cx="604.87" cy="110.50" rx="1.19" ry="1.12" fill="rgb(255,26,0)"/>
<ellipse cx="516.22" cy="121.95" rx="3.08" ry="2.90" fill="rgb(255,175,0)"/>
<ellipse cx="528.88" cy="121.95" rx="3.13" ry="2.94" fill="rgb(255,180,0)"/>
<ellipse cx="541.54" cy="121.95" rx="3.17" ry="2.98" fill="rgb(255,185,0)"/>
<ellipse cx="554.21" cy="121.95" rx="3.25" ry="3.06" fill="rgb(255,195,0)"/>
<ellipse cx="566.88" cy="121.95" rx="3.42" ry="3.21" fill="rgb(255,215,0)"/>
<ellipse cx="579.54" cy="121.95" rx="3.21" ry="3.02" fill="rgb(255,190,0)"/>
<ellipse cx="592.20" cy="121.95" rx="2.60" ry="2.45" fill="rgb(255,125,0)"/>
<ellipse cx="604.87" cy="121.95" rx="1.19" ry="1.12" fill="rgb(255,26,0)"/>
<ellipse cx="516.22" cy="133.40" rx="2.99" ry="2.81" fill="rgb(255,165,0)"/>
<ellipse cx="528.88" cy="133.40" rx="3.04" ry="2.86" fill="rgb(255,170,0)"/>
<ellipse cx="541.54" cy="133.40" rx="3.08" ry="2.90" fill="rgb(255,175,0)"/>
<ellipse cx="554.21" cy="133.40" rx="3.17" ry="2.98" fill="rgb(255,185,0)"/>
<ellipse cx="566.88" cy="133.40" rx="3.34" ry="3.14" fill="rgb(255,205,0)"/>
<ellipse cx="579.54" cy="133.40" rx="3.29" ry="3.10" fill="rgb(255,200,0)"/>
<ellipse cx="592.20" cy="133.40" rx="2.55" ry="2.40" fill="rgb(255,120,0)"/>
<ellipse cx="604.87" cy="133.40" rx="1.19" ry="1.12" fill="rgb(255,26,0)"/>
<ellipse cx="516.22" cy="144.85" rx="2.95" ry="2.77" fill="rgb(255,160,0)"/>
<ellipse cx="528.88" cy="144.85" rx="2.99" ry="2.81" fill="rgb(255,165,0)"/>
<ellipse cx="541.54" cy="144.85" rx="3.04" ry="2.86" fill="rgb(255,170,0)"/>
<ellipse cx="554.21" cy="144.85" rx="3.08" ry="2.90" fill="rgb(255,175,0)"/>
<ellipse cx="566.88" cy="144.85" rx="3.34" ry="3.14" fill="rgb(255,205,0)"/>
<ellipse cx="579.54" cy="144.85" rx="3.29" ry="3.10" fill="rgb(255,200,0)"/>
<ellipse cx="592.20" cy="144.85" rx="2.50" ry="2.35" fill="rgb(255,115,0)"/>
<ellipse cx="604.87" cy="144.85" rx="1.19" ry="1.12" fill="rgb(255,26,0)"/>
<ellipse cx="528.88" cy="156.30" rx="2.95" ry="2.77" fill="rgb(255,160,0)"/>
<ellipse cx="541.54" cy="156.30" rx="2.99" ry="2.81" fill="rgb(255,165,0)"/>
<ellipse cx="554.21" cy="156.30" rx="3.04" ry="2.86" fill="rgb(255,170,0)"/>
<ellipse cx="566.88" cy="156.30" rx="3.29" ry="3.10" fill="rgb(255,200,0)"/>
<ellipse cx="579.54" cy="156.30" rx="3.08" ry="2.90" fill="rgb(255,175,0)"/>
<ellipse cx="592.20" cy="156.30" rx="2.44" ry="2.30" fill="rgb(255,110,0)"/>
<ellipse cx="604.87" cy="156.30" rx="1.19" ry="1.12" fill="rgb(255,26,0)"/>
<ellipse cx="528.88" cy="167.75" rx="2.76" ry="2.59" fill="rgb(255,140,0)"/>
<ellipse cx="541.54" cy="167.75" rx="2.85" ry="2.68" fill="rgb(255,150,0)"/>
<ellipse cx="554.21" cy="167.75" rx="2.90" ry="2.73" fill="rgb(255,155,0)"/>
<ellipse cx="566.88" cy="167.75" rx="3.21" ry="3.02" fill="rgb(255,190,0)"/>
<ellipse cx="579.54" cy="167.75" rx="3.38" ry="3.17" fill="rgb(255,210,0)"/>
<ellipse cx="592.20" cy="167.75" rx="2.44" ry="2.30" fill="rgb(255,110,0)"/>
<ellipse cx="604.87" cy="167.75" rx="1.19" ry="1.12" fill="rgb(255,26,0)"/>
<ellipse cx="528.88" cy="179.20" rx="2.71" ry="2.54" fill="rgb(255,135,0)"/>
<ellipse cx="541.54" cy="179.20" rx="2.85" ry="2.68" fill="rgb(255,150,0)"/>
<ellipse cx="554.21" cy="179.20" rx="2.85" ry="2.68" fill="rgb(255,150,0)"/>
<ellipse cx="566.88" cy="179.20" rx="3.17" ry="2.98" fill="rgb(255,185,0)"/>
<ellipse cx="579.54" cy="179.20" rx="3.29" ry="3.10" fill="rgb(255,200,0)"/>
<ellipse cx="592.20" cy="179.20" rx="2.39" ry="2.24" fill="rgb(255,105,0)"/>
<ellipse cx="604.87" cy="179.20" rx="1.19" ry="1.12" fill="rgb(255,26,0)"/>
<ellipse cx="528.88" cy="190.65" rx="2.66" ry="2.50" fill="rgb(255,130,0)"/>
<ellipse cx="541.54" cy="190.65" rx="2.81" ry="2.64" fill="rgb(255,145,0)"/>
<ellipse cx="554.21" cy="190.65" rx="2.81" ry="2.64" fill="rgb(255,145,0)"/>
<ellipse cx="566.88" cy="190.65" rx="3.08" ry="2.90" fill="rgb(255,175,0)"/>
<ellipse cx="579.54" cy="190.65" rx="3.13" ry="2.94" fill="rgb(255,180,0)"/>
<ellipse cx="592.20" cy="190.65" rx="2.39" ry="2.24" fill="rgb(255,105,0)"/>
<ellipse cx="604.87" cy="190.65" rx="1.19" ry="1.12" fill="rgb(255,26,0)"/>
<ellipse cx="528.88" cy="202.10" rx="2.44" ry="2.30" fill="rgb(255,110,0)"/>
<ellipse cx="541.54" cy="202.10" rx="2.66" ry="2.50" fill="rgb(255,130,0)"/>
<ellipse cx="554.21" cy="202.10" rx="2.66" ry="2.50" fill="rgb(255,130,0)"/>
<ellipse cx="566.88" cy="202.10" rx="2.99" ry="2.81" fill="rgb(255,165,0)"/>
<ellipse cx="579.54" cy="202.10" rx="2.99" ry="2.81" fill="rgb(255,165,0)"/>
<ellipse cx="592.20" cy="202.10" rx="1.95" ry="1.83" fill="rgb(255,70,0)"/>
<ellipse cx="604.87" cy="202.10" rx="0.89" ry="0.83" fill="rgb(255,14,0)"/>
<ellipse cx="528.88" cy="213.55" rx="2.27" ry="2.13" fill="rgb(255,95,0)"/>
<ellipse cx="541.54" cy="213.55" rx="2.39" ry="2.24" fill="rgb(255,105,0)"/>
<ellipse cx="554.21" cy="213.55" rx="2.44" ry="2.30" fill="rgb(255,110,0)"/>
<ellipse cx="566.88" cy="213.55" rx="2.39" ry="2.24" fill="rgb(255,105,0)"/>
<ellipse cx="579.54" cy="213.55" rx="2.33" ry="2.19" fill="rgb(255,100,0)"/>
<ellipse cx="592.20" cy="213.55" rx="1.47" ry="1.39" fill="rgb(255,40,0)"/>
<ellipse cx="604.87" cy="213.55" rx="0.69" ry="0.64" fill="rgb(255,9,0)"/>
</g>
<line x1="376.5" y1="7.35" x2="376.5" y2="235.4" stroke="#888888" stroke-width="1"/>
<line x1="376.5" y1="235.4" x2="630.0" y2="235.4" stroke="#888888" stroke-width="1"/>
<line x1="376.50" y1="235.4" x2="376.50" y2="232.9" stroke="#888888" stroke-width="1"/>
<line x1="376.5" y1="235.40" x2="379.0" y2="235.40" stroke="#888888" stroke-width="1"/>
<line x1="427.56" y1="235.4" x2="427.56" y2="232.9" stroke="#888888" stroke-width="1"/>
<line x1="376.5" y1="190.35" x2="379.0" y2="190.35" stroke="#888888" stroke-width="1"/>
<line x1="478.22" y1="235.4" x2="478.22" y2="232.9" stroke="#888888" stroke-width="1"/>
<line x1="376.5" y1="144.55" x2="379.0" y2="144.55" stroke="#888888" stroke-width="1"/>
<line x1="528.88" y1="235.4" x2="528.88" y2="232.9" stroke="#888888" stroke-width="1"/>
<line x1="376.5" y1="98.75" x2="379.0" y2="98.75" stroke="#888888" stroke-width="1"/>
<line x1="579.54" y1="235.4" x2="579.54" y2="232.9" stroke="#888888" stroke-width="1"/>
<line x1="376.5" y1="52.95" x2="379.0" y2="52.95" stroke="#888888" stroke-width="1"/>
<line x1="630.00" y1="235.4" x2="630.00" y2="232.9" stroke="#888888" stroke-width="1"/>
<line x1="376.5" y1="7.35" x2="379.0" y2="7.35" stroke="#888888" stroke-width="1"/>
<text transform="translate(376.90 249.10) rotate(0.2) scale(0.93 1)" text-anchor="middle" font-size="9.5" font-family="Liberation Sans, sans-serif" fill="#262626">0</text>
<text transform="translate(373.30 239.65) rotate(0.2) scale(0.93 1)" text-anchor="end" font-size="9.5" font-family="Liberation Sans, sans-serif" fill="#262626">0</text>
<text transform="translate(427.56 249.10) rotate(0.2) scale(0.93 1)" text-anchor="middle" font-size="9.5" font-family="Liberation Sans, sans-serif" fill="#262626">0.2</text>
<text transform="translate(373.30 193.85) rotate(0.2) scale(0.93 1)" text-anchor="end" font-size="9.5" font-family="Liberation Sans, sans-serif" fill="#262626">0.2</text>
<text transform="translate(478.22 249.10) rotate(0.2) scale(0.93 1)" text-anchor="middle" font-size="9.5" font-family="Liberation Sans, sans-serif" fill="#262626">0.4</text>
<text transform="translate(373.30 148.05) rotate(0.2) scale(0.93 1)" text-anchor="end" font-size="9.5" font-family="Liberation Sans, sans-serif" fill="#262626">0.4</text>
<text transform="translate(528.88 249.10) rotate(0.2) scale(0.93 1)" text-anchor="middle" font-size="9.5" font-family="Liberation Sans, sans-serif" fill="#262626">0.6</text>
<text transform="translate(373.30 102.25) rotate(0.2) scale(0.93 1)" text-anchor="end" font-size="9.5" font-family="Liberation Sans, sans-serif" fill="#262626">0.6</text>
<text transform="translate(579.54 249.10) rotate(0.2) scale(0.93 1)" text-anchor="middle" font-size="9.5" font-family="Liberation Sans, sans-serif" fill="#262626">0.8</text>
<text transform="translate(373.30 56.45) rotate(0.2) scale(0.93 1)" text-anchor="end" font-size="9.5" font-family="Liberation Sans, sans-serif" fill="#262626">0.8</text>
<text transform="translate(630.20 249.10) rotate(0.2) scale(0.93 1)" text-anchor="middle" font-size="9.5" font-family="Liberation Sans, sans-serif" fill="#262626">1</text>
<text transform="translate(373.30 10.65) rotate(0.2) scale(0.93 1)" text-anchor="end" font-size="9.5" font-family="Liberation Sans, sans-serif" fill="#262626">1</text>
<text transform="translate(503.45 261.9) rotate(0.2) scale(0.98 1)" text-anchor="middle" font-size="10" font-family="Liberation Sans, sans-serif" fill="#262626">pore_size_x (mm)</text>
<text transform="translate(356.60 121.38) rotate(-89.8) scale(0.98 1)" text-anchor="middle" font-size="10" font-family="Liberation Sans, sans-serif" fill="#262626">pore_size_z (mm)</text>
<text transform="translate(356.3 10.0) rotate(0.2) scale(0.95 1)" font-size="14" font-weight="bold" font-family="Liberation Sans, sans-serif" fill="#000">b</text>
<defs><linearGradient id="gb" x1="0" y1="1" x2="0" y2="0"><stop offset="0" stop-color="rgb(255,0,0)"/><stop offset="1" stop-color="rgb(255,255,0)"/></linearGradient></defs>
<rect x="644" y="7" width="14" height="229" fill="url(#gb)"/>
<rect x="644.5" y="7.5" width="13" height="228" fill="none" stroke="#262626" stroke-opacity="0.6" stroke-width="1"/>
<line x1="657.75" y1="209.57" x2="655.25" y2="209.57" stroke="#262626" stroke-opacity="0.55" stroke-width="1"/>
<text transform="translate(661.25 212.57) rotate(0.2) scale(0.93 1)" text-anchor="start" font-size="9.5" font-family="Liberation Sans, sans-serif" fill="#262626">0.05</text>
<line x1="657.75" y1="183.73" x2="655.25" y2="183.73" stroke="#262626" stroke-opacity="0.55" stroke-width="1"/>
<text transform="translate(661.25 186.73) rotate(0.2) scale(0.93 1)" text-anchor="start" font-size="9.5" font-family="Liberation Sans, sans-serif" fill="#262626">0.1</text>
<line x1="657.75" y1="157.90" x2="655.25" y2="157.90" stroke="#262626" stroke-opacity="0.55" stroke-width="1"/>
<text transform="translate(661.25 160.90) rotate(0.2) scale(0.93 1)" text-anchor="start" font-size="9.5" font-family="Liberation Sans, sans-serif" fill="#262626">0.15</text>
<line x1="657.75" y1="132.07" x2="655.25" y2="132.07" stroke="#262626" stroke-opacity="0.55" stroke-width="1"/>
<text transform="translate(661.25 135.07) rotate(0.2) scale(0.93 1)" text-anchor="start" font-size="9.5" font-family="Liberation Sans, sans-serif" fill="#262626">0.2</text>
<line x1="657.75" y1="106.24" x2="655.25" y2="106.24" stroke="#262626" stroke-opacity="0.55" stroke-width="1"/>
<text transform="translate(661.25 109.24) rotate(0.2) scale(0.93 1)" text-anchor="start" font-size="9.5" font-family="Liberation Sans, sans-serif" fill="#262626">0.25</text>
<line x1="657.75" y1="80.40" x2="655.25" y2="80.40" stroke="#262626" stroke-opacity="0.55" stroke-width="1"/>
<text transform="translate(661.25 83.40) rotate(0.2) scale(0.93 1)" text-anchor="start" font-size="9.5" font-family="Liberation Sans, sans-serif" fill="#262626">0.3</text>
<line x1="657.75" y1="54.57" x2="655.25" y2="54.57" stroke="#262626" stroke-opacity="0.55" stroke-width="1"/>
<text transform="translate(661.25 57.57) rotate(0.2) scale(0.93 1)" text-anchor="start" font-size="9.5" font-family="Liberation Sans, sans-serif" fill="#262626">0.35</text>
<line x1="657.75" y1="28.74" x2="655.25" y2="28.74" stroke="#262626" stroke-opacity="0.55" stroke-width="1"/>
<text transform="translate(661.25 31.74) rotate(0.2) scale(0.93 1)" text-anchor="start" font-size="9.5" font-family="Liberation Sans, sans-serif" fill="#262626">0.4</text>
</svg></body></html>
